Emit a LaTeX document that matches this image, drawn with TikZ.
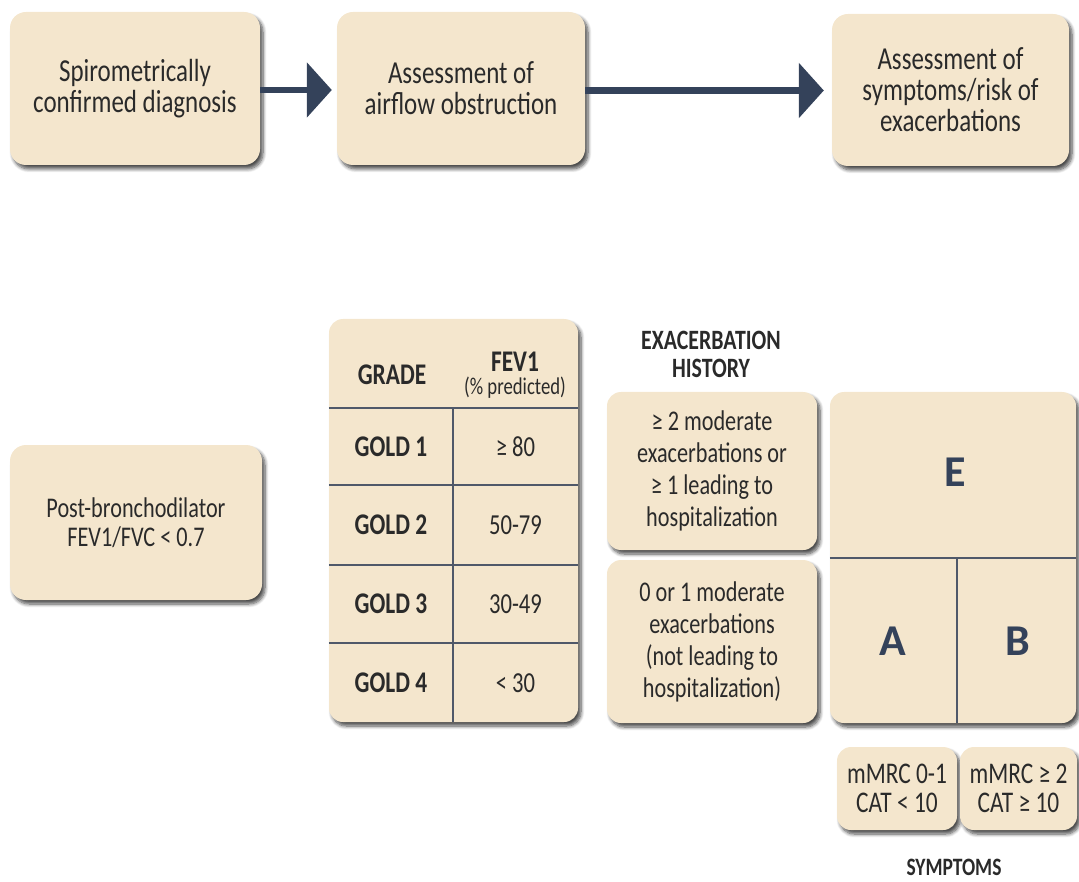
\documentclass[tikz,border=0pt]{standalone}
\usepackage{fontspec}
\setmainfont{Carlito}[FakeStretch=0.78]
\newfontfamily\letterfont{Carlito}
\usetikzlibrary{arrows.meta,shadows.blur}
\definecolor{boxfill}{HTML}{F4E6CD}
\definecolor{navy}{HTML}{34425A}
\definecolor{ink}{HTML}{2A2A2A}
\definecolor{rulecol}{HTML}{4F5869}

\begin{document}
\begin{tikzpicture}[x=1pt,y=-1pt,
  card/.style={rectangle, rounded corners=16pt, fill=boxfill, draw=none,
    align=center, text=ink, inner sep=0pt,
    blur shadow={shadow xshift=3pt, shadow yshift=-4pt, shadow blur steps=7,
      shadow blur radius=3.5pt, shadow opacity=70}},
  bigtext/.style={font=\fontsize{32}{31}\selectfont},
  midtext/.style={font=\fontsize{28.5}{32}\selectfont},
  label/.style={text=ink, align=center, inner sep=0pt},
  head/.style={label, font=\bfseries\fontsize{28}{28}\selectfont},
  cell/.style={label, font=\fontsize{29}{28}\selectfont},
  cellb/.style={label, font=\bfseries\fontsize{30}{28}\selectfont},
  letter/.style={text=navy, inner sep=0pt, font=\letterfont\bfseries\fontsize{44}{48}\selectfont},
  flow/.style={draw=navy, line width=6.5pt, -{Triangle[length=25pt, width=54pt]}},
  divider/.style={draw=rulecol, line width=1.6pt}
]
\useasboundingbox (0,0) rectangle (1079,882);

% top row: flow of the assessment
\node[card, bigtext, minimum width=250pt, minimum height=153pt] (diag) at (135,88.5)
  {Spirometrically\\confirmed diagnosis};
\node[card, bigtext, minimum width=248pt, minimum height=153pt] (airflow) at (461,88.5)
  {Assessment of\\airflow obstruction};
\node[card, bigtext, minimum width=237pt, minimum height=152pt] (risk) at (950.5,90)
  {Assessment of\\symptoms/risk of\\exacerbations};

\draw[flow, shorten >=5pt] ([yshift=-1.5pt]diag.east) -- ([yshift=-1.5pt]airflow.west);
\draw[flow, shorten >=8pt] ([yshift=-2pt]airflow.east) -- ([yshift=-0.5pt]risk.west);

% spirometric criterion
\node[card, font=\fontsize{28.5}{29}\selectfont, minimum width=252pt, minimum height=155pt] (post) at (136,522.5)
  {Post-bronchodilator\\FEV1/FVC < 0.7};

% GOLD grade table
\node[card, rounded corners=14pt, minimum width=249pt, minimum height=403pt] (tbl) at (453.5,520.5) {};
\coordinate (colsep) at (453,408);
\draw[divider] (tbl.west |- colsep) -- (tbl.east |- colsep);
\draw[divider] (tbl.west |- 0,485) -- (tbl.east |- 0,485);
\draw[divider] (tbl.west |- 0,565) -- (tbl.east |- 0,565);
\draw[divider] (tbl.west |- 0,643) -- (tbl.east |- 0,643);
\draw[divider] (colsep) -- (colsep |- tbl.south);

\node[cellb] (grade) at (392,375) {GRADE};
\node[cellb] (fev) at (515,362) {FEV1};
\node[label, font=\fontsize{24}{20}\selectfont] (pred) at (515,388) {(\% predicted)};

\node[cellb] (g1) at (391,447) {GOLD 1};
\node[cellb] (g2) at (391,525) {GOLD 2};
\node[cellb] (g3) at (391,604) {GOLD 3};
\node[cellb] (g4) at (391,683) {GOLD 4};
\node[cell] (v1) at (515.5,447) {≥ 80};
\node[cell] (v2) at (515.5,525) {50-79};
\node[cell] (v3) at (515.5,604) {30-49};
\node[cell] (v4) at (515.5,683) {< 30};

% exacerbation history
\node[head] (exhist) at (711,354) {EXACERBATION\\HISTORY};
\node[card, midtext, rounded corners=14pt, minimum width=210pt, minimum height=158pt] (high) at (712,471)
  {≥ 2 moderate\\exacerbations or\\≥ 1 leading to\\hospitalization};
\node[card, midtext, rounded corners=14pt, minimum width=210pt, minimum height=163pt] (low) at (712,641.5)
  {0 or 1 moderate\\exacerbations\\(not leading to\\hospitalization)};

% ABE assessment grid
\node[card, rounded corners=14pt, minimum width=246pt, minimum height=331pt] (abe) at (953,557.5) {};
\coordinate (split) at (957,558);
\draw[divider] (abe.west |- split) -- (abe.east |- split);
\draw[divider] (split) -- (split |- abe.south);
\node[letter] (gE) at (955,472) {E};
\node[letter] (gA) at (893,641) {A};
\node[letter] (gB) at (1018,641) {B};

% symptom thresholds
\node[card, font=\fontsize{30}{29}\selectfont, rounded corners=14pt, minimum width=120pt, minimum height=83pt] (lowsym) at (897,788.5)
  {mMRC 0-1\\CAT < 10};
\node[card, font=\fontsize{30}{29}\selectfont, rounded corners=14pt, minimum width=117pt, minimum height=83pt] (highsym) at (1018.5,788.5)
  {mMRC ≥ 2\\CAT ≥ 10};
\node[head, font=\bfseries\fontsize{25}{24}\selectfont] (symp) at (954,867) {SYMPTOMS};
\end{tikzpicture}
\end{document}
